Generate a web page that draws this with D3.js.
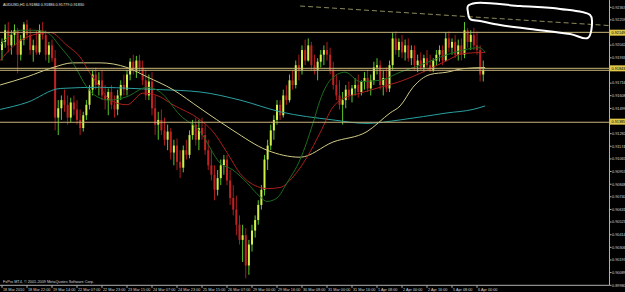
<!DOCTYPE html>
<html>
<head>
<meta charset="utf-8">
<script src="https://cdn.jsdelivr.net/npm/d3@7"></script>
<style>
html, body { margin: 0; padding: 0; background: #000; overflow: hidden; }
svg { display: block; font-family: "Liberation Sans", Arial, sans-serif; }
</style>
</head>
<body>
<script>
// AUDUSD candles (one candle per 2 hours)
var opens = [
0.9200,0.9207,0.9217,0.9204,0.9213,0.9217,0.9196,0.9209,0.9222,0.9213,
0.9200,0.9204,0.9198,0.9217,0.9213,0.9196,0.9204,0.9193,0.9142,0.9150,
0.9157,0.9153,0.9142,0.9155,0.9149,0.9140,0.9133,0.9144,0.9153,0.9166,
0.9179,0.9170,0.9174,0.9161,0.9157,0.9164,0.9153,0.9149,0.9161,0.9170,
0.9166,0.9179,0.9190,0.9183,0.9191,0.9185,0.9174,0.9161,0.9173,0.9150,
0.9136,0.9140,0.9131,0.9123,0.9130,0.9112,0.9118,0.9104,0.9099,0.9114,
0.9110,0.9127,0.9136,0.9123,0.9133,0.9127,0.9114,0.9101,0.9093,0.9080,
0.9090,0.9101,0.9106,0.9088,0.9073,0.9063,0.9050,0.9037,0.9041,0.9015,
0.9033,0.9045,0.9054,0.9067,0.9080,0.9106,0.9118,0.9131,0.9140,0.9153,
0.9144,0.9161,0.9157,0.9174,0.9170,0.9187,0.9183,0.9200,0.9191,0.9204,
0.9187,0.9183,0.9190,0.9196,0.9200,0.9196,0.9183,0.9170,0.9161,0.9153,
0.9157,0.9166,0.9161,0.9167,0.9170,0.9164,0.9173,0.9176,0.9167,0.9174,
0.9185,0.9187,0.9170,0.9176,0.9167,0.9187,0.9210,0.9200,0.9207,0.9198,
0.9204,0.9193,0.9200,0.9187,0.9191,0.9185,0.9193,0.9187,0.9183,0.9191,
0.9196,0.9200,0.9191,0.9210,0.9202,0.9207,0.9196,0.9204,0.9196,0.9217,
0.9207,0.9213,0.9204,0.9200,0.9179];
var highs = [
0.9210,0.9222,0.9224,0.9217,0.9222,0.9219,0.9213,0.9224,0.9226,0.9219,
0.9209,0.9217,0.9222,0.9224,0.9217,0.9207,0.9209,0.9200,0.9157,0.9161,
0.9166,0.9161,0.9159,0.9161,0.9157,0.9149,0.9147,0.9157,0.9170,0.9183,
0.9185,0.9181,0.9183,0.9170,0.9167,0.9170,0.9161,0.9166,0.9174,0.9179,
0.9183,0.9193,0.9196,0.9195,0.9196,0.9191,0.9183,0.9179,0.9181,0.9161,
0.9147,0.9149,0.9142,0.9136,0.9133,0.9123,0.9124,0.9114,0.9118,0.9123,
0.9131,0.9140,0.9142,0.9140,0.9142,0.9136,0.9123,0.9114,0.9101,0.9097,
0.9106,0.9110,0.9110,0.9097,0.9084,0.9075,0.9058,0.9050,0.9047,0.9037,
0.9050,0.9058,0.9071,0.9084,0.9110,0.9123,0.9136,0.9144,0.9157,0.9157,
0.9166,0.9170,0.9179,0.9183,0.9191,0.9196,0.9204,0.9209,0.9210,0.9207,
0.9196,0.9193,0.9200,0.9204,0.9207,0.9202,0.9190,0.9179,0.9174,0.9164,
0.9170,0.9173,0.9170,0.9176,0.9179,0.9174,0.9181,0.9183,0.9179,0.9190,
0.9193,0.9191,0.9183,0.9185,0.9191,0.9215,0.9216,0.9210,0.9213,0.9209,
0.9210,0.9204,0.9204,0.9196,0.9198,0.9196,0.9200,0.9196,0.9193,0.9200,
0.9204,0.9204,0.9215,0.9216,0.9210,0.9213,0.9209,0.9210,0.9224,0.9219,
0.9217,0.9219,0.9216,0.9204,0.9191];
var lows = [
0.9191,0.9202,0.9198,0.9196,0.9204,0.9180,0.9191,0.9204,0.9209,0.9196,
0.9190,0.9196,0.9196,0.9209,0.9191,0.9189,0.9190,0.9131,0.9127,0.9140,
0.9147,0.9136,0.9138,0.9144,0.9136,0.9127,0.9130,0.9140,0.9149,0.9161,
0.9166,0.9161,0.9157,0.9149,0.9144,0.9149,0.9142,0.9144,0.9157,0.9161,
0.9161,0.9174,0.9179,0.9176,0.9181,0.9170,0.9157,0.9157,0.9144,0.9127,
0.9123,0.9127,0.9118,0.9114,0.9106,0.9101,0.9097,0.9090,0.9095,0.9106,
0.9107,0.9123,0.9118,0.9114,0.9123,0.9110,0.9097,0.9088,0.9071,0.9075,
0.9084,0.9093,0.9084,0.9067,0.9058,0.9041,0.9033,0.9018,0.9004,0.9007,
0.9027,0.9039,0.9050,0.9063,0.9075,0.9097,0.9114,0.9123,0.9136,0.9140,
0.9142,0.9153,0.9155,0.9166,0.9167,0.9174,0.9179,0.9187,0.9190,0.9183,
0.9179,0.9174,0.9185,0.9187,0.9191,0.9179,0.9166,0.9157,0.9149,0.9136,
0.9150,0.9157,0.9155,0.9161,0.9159,0.9161,0.9166,0.9164,0.9161,0.9170,
0.9179,0.9166,0.9161,0.9164,0.9164,0.9183,0.9196,0.9194,0.9193,0.9191,
0.9190,0.9187,0.9183,0.9181,0.9183,0.9181,0.9185,0.9181,0.9181,0.9187,
0.9190,0.9187,0.9190,0.9198,0.9196,0.9193,0.9191,0.9191,0.9193,0.9202,
0.9200,0.9200,0.9196,0.9173,0.9173];
var closes = [
0.9207,0.9217,0.9204,0.9213,0.9217,0.9196,0.9209,0.9222,0.9213,0.9200,
0.9204,0.9198,0.9217,0.9213,0.9196,0.9204,0.9193,0.9142,0.9150,0.9157,
0.9153,0.9142,0.9155,0.9149,0.9140,0.9133,0.9144,0.9153,0.9166,0.9179,
0.9170,0.9174,0.9161,0.9157,0.9164,0.9153,0.9149,0.9161,0.9170,0.9166,
0.9179,0.9190,0.9183,0.9191,0.9185,0.9174,0.9161,0.9173,0.9150,0.9136,
0.9140,0.9131,0.9123,0.9130,0.9112,0.9118,0.9104,0.9099,0.9114,0.9110,
0.9127,0.9136,0.9123,0.9133,0.9127,0.9114,0.9101,0.9093,0.9080,0.9090,
0.9101,0.9106,0.9088,0.9073,0.9063,0.9050,0.9037,0.9041,0.9015,0.9033,
0.9045,0.9054,0.9067,0.9080,0.9106,0.9118,0.9131,0.9140,0.9153,0.9144,
0.9161,0.9157,0.9174,0.9170,0.9187,0.9183,0.9200,0.9191,0.9204,0.9187,
0.9183,0.9190,0.9196,0.9200,0.9196,0.9183,0.9170,0.9161,0.9153,0.9157,
0.9166,0.9161,0.9167,0.9170,0.9164,0.9173,0.9176,0.9167,0.9174,0.9185,
0.9187,0.9170,0.9176,0.9167,0.9187,0.9210,0.9200,0.9207,0.9198,0.9204,
0.9193,0.9200,0.9187,0.9191,0.9185,0.9193,0.9187,0.9183,0.9191,0.9196,
0.9200,0.9191,0.9210,0.9202,0.9207,0.9196,0.9204,0.9196,0.9217,0.9207,
0.9213,0.9204,0.9200,0.9179,0.9183];

// moving averages, [candle index, price] read at points along each line
var maGreen = [[-0.6,0.9204],[5.8,0.9217],[9.9,0.9217],[14.4,0.9215],[18.6,0.9203],[22.7,0.9189],
  [27.2,0.9168],[30.4,0.9160],[34.6,0.9157],[40,0.9160],[46.4,0.9168],[50.6,0.9164],[57,0.9144],
  [63.4,0.9130],[69.8,0.9103],[73.9,0.9097],[78.4,0.9086],[82.6,0.9074],[84.8,0.9070],[88,0.9073],
  [91.2,0.9086],[95.4,0.9106],[99.5,0.9137],[101.8,0.9157],[105,0.9174],[109.8,0.9181],[114.6,0.9173],
  [121,0.9174],[127.4,0.9181],[133.8,0.9187],[142.4,0.9196],[147.5,0.9200],[152.9,0.9202],[154.6,0.9198]];
var maRed = [[-0.6,0.9191],[3.5,0.9203],[9.9,0.9213],[15.4,0.9215],[20.8,0.9204],[25,0.9194],
  [28.2,0.9180],[31.4,0.9168],[34.6,0.9157],[40,0.9153],[45.1,0.9163],[49.6,0.9161],[54.7,0.9153],
  [63.4,0.9140],[67.5,0.9130],[72,0.9112],[76.2,0.9094],[82.6,0.9082],[84.8,0.9081],[89,0.9082],
  [93.1,0.9091],[97.6,0.9108],[101.8,0.9129],[105.9,0.9151],[108.2,0.9157],[114.6,0.9163],[121,0.9168],
  [127.4,0.9173],[133.8,0.9180],[142.4,0.9191],[147.5,0.9197],[154.6,0.9198]];
var maYellow = [[-0.6,0.9170],[8,0.9177],[16.3,0.9185],[22.7,0.9189],[31.4,0.9189],[40,0.9185],
  [46.4,0.9177],[54.7,0.9166],[63.4,0.9150],[73.9,0.9131],[84.8,0.9114],[95.4,0.9108],[105.9,0.9121],
  [116.8,0.9130],[124.2,0.9146],[127.4,0.9152],[131.5,0.9168],[137,0.9179],[142.4,0.9181],
  [147.5,0.9184],[154.6,0.9185]];
var maTeal = [[-0.6,0.9149],[8,0.9155],[18.6,0.9167],[31.4,0.9168],[41.9,0.9167],[50.6,0.9166],
  [63.4,0.9164],[76.2,0.9157],[89,0.9147],[105.9,0.9140],[116.8,0.9137],[127.4,0.9140],[142.4,0.9146],
  [150.7,0.9149],[154.6,0.9152]];

// horizontal levels, trendline and the hand drawn loop
var levels = [0.92152, 0.91843, 0.91826, 0.91380];
var levelLabels = [0.92149, 0.91843, 0.91385];
var trendline = [[95.4,0.92378],[194.5,0.92210]];
var loop = [[149.1,0.92378],[151.7,0.92404],[165.8,0.92378],[178.6,0.92353],[188.2,0.92301],
  [188.8,0.92250],[187.5,0.92104],[181.8,0.92138],[169,0.92181],[159.4,0.92215],[153,0.92250],
  [149.8,0.92267],[149.1,0.92327]];

// axis labels
var priceTicks = [0.92367,0.92259,0.92150,0.92042,0.91933,0.91825,0.91716,0.91608,0.91499,0.91391,
  0.91282,0.91174,0.91065,0.90957,0.90848,0.90740,0.90631,0.90523,0.90414,0.90306,0.90197,0.90089,0.89980];
var timeLabels = ["18 Mar 2010","18 Mar 22:00","19 Mar 14:00","22 Mar 07:00","22 Mar 23:00",
  "23 Mar 15:00","24 Mar 07:00","24 Mar 23:00","25 Mar 15:00","26 Mar 07:00","29 Mar 00:00",
  "29 Mar 16:00","30 Mar 08:00","31 Mar 00:00","31 Mar 16:00","1 Apr 08:00","2 Apr 00:00",
  "2 Apr 16:00","5 Apr 08:00","6 Apr 00:00"];
var header = "AUDUSD,H1  0.91884 0.91886 0.91779 0.91830";
var footer = "FxPro MT4, \u00a9 2001-2009 MetaQuotes Software Corp.";

var width = 625,
    height = 292,
    plotRight = 609.5,
    plotBottom = 285.3;

var svg = d3.select("body")
    .append("svg")
    .attr("width", width)
    .attr("height", height);

svg.append("rect")
    .attr("width", width)
    .attr("height", height)
    .attr("fill", "#000");

//candle index -> pixel, 8 candles per time label
var x = d3.scaleLinear()
    .domain([0, 8])
    .range([2, 27]);

var y = d3.scaleLinear()
    .domain([0.89980, 0.92367])
    .range([285.3, 7.3]);

svg.append("clipPath")
    .attr("id", "plotclip")
    .append("rect")
    .attr("x", 0).attr("y", 0)
    .attr("width", plotRight)
    .attr("height", plotBottom);

var plot = svg.append("g").attr("clip-path", "url(#plotclip)");

//candles
var candles = d3.range(opens.length).map(function(i){
    return {i: i, o: opens[i], h: highs[i], l: lows[i], c: closes[i]};
});

var cg = plot.selectAll(".candle")
    .data(candles)
    .enter()
    .append("g")
    .attr("class", "candle");

cg.append("line")
    .attr("x1", function(d){ return x(d.i); })
    .attr("x2", function(d){ return x(d.i); })
    .attr("y1", function(d){ return y(d.h); })
    .attr("y2", function(d){ return y(d.l); })
    .attr("stroke", function(d){ return d.c >= d.o ? "#5cc62a" : "#a81c1c"; })
    .attr("stroke-width", 1);

cg.append("rect")
    .attr("x", function(d){ return x(d.i) - 1; })
    .attr("width", 2)
    .attr("y", function(d){ return y(Math.max(d.o, d.c)); })
    .attr("height", function(d){ return Math.max(1, Math.abs(y(d.o) - y(d.c))); })
    .attr("fill", function(d){ return d.c >= d.o ? "#d0f04a" : "#c02222"; });

//moving averages
var maLine = d3.line()
    .x(function(d){ return x(d[0]); })
    .y(function(d){ return y(d[1]); })
    .curve(d3.curveMonotoneX);

var mas = [
    {pts: maTeal, color: "#2aa0a0"},
    {pts: maYellow, color: "#d2cc86"},
    {pts: maRed, color: "#a8201e"},
    {pts: maGreen, color: "#1c6e20"}
];

plot.selectAll(".ma")
    .data(mas)
    .enter()
    .append("path")
    .attr("class", "ma")
    .attr("d", function(d){ return maLine(d.pts); })
    .attr("fill", "none")
    .attr("stroke", function(d){ return d.color; })
    .attr("stroke-width", 1);

//horizontal levels
plot.selectAll(".level")
    .data(levels)
    .enter()
    .append("line")
    .attr("class", "level")
    .attr("x1", 0)
    .attr("x2", plotRight)
    .attr("y1", function(d){ return y(d); })
    .attr("y2", function(d){ return y(d); })
    .attr("stroke", "#c9b679")
    .attr("stroke-width", 1);

//dashed trendline
var straight = d3.line()
    .x(function(d){ return x(d[0]); })
    .y(function(d){ return y(d[1]); });

plot.append("path")
    .attr("d", straight(trendline))
    .attr("fill", "none")
    .attr("stroke", "#8e8c5a")
    .attr("stroke-width", 1)
    .attr("stroke-dasharray", "5,3");

//hand drawn loop
plot.append("path")
    .attr("d", d3.line()
        .x(function(d){ return x(d[0]); })
        .y(function(d){ return y(d[1]); })
        .curve(d3.curveCatmullRomClosed.alpha(0.5))(loop))
    .attr("fill", "none")
    .attr("stroke", "#ffffff")
    .attr("stroke-width", 2);

//frame
svg.append("line")
    .attr("x1", plotRight).attr("x2", plotRight)
    .attr("y1", 0).attr("y2", plotBottom)
    .attr("stroke", "#b0b0b0");
svg.append("line")
    .attr("x1", 0).attr("x2", plotRight)
    .attr("y1", plotBottom).attr("y2", plotBottom)
    .attr("stroke", "#b0b0b0");

//price axis, regular labels hidden where a level label sits
var shownTicks = priceTicks.filter(function(p){
    return levelLabels.every(function(l){ return Math.abs(y(p) - y(l)) > 5; });
});

var pa = svg.append("g").attr("font-size", 3.8).attr("fill", "#d4d4d4");
pa.selectAll(".ptick")
    .data(priceTicks)
    .enter()
    .append("line")
    .attr("x1", plotRight).attr("x2", plotRight + 2)
    .attr("y1", function(d){ return y(d); })
    .attr("y2", function(d){ return y(d); })
    .attr("stroke", "#b0b0b0");
pa.selectAll(".plabel")
    .data(shownTicks)
    .enter()
    .append("text")
    .attr("x", 612)
    .attr("y", function(d){ return y(d) + 1.3; })
    .text(function(d){ return d.toFixed(5); });

var hl = svg.selectAll(".hl")
    .data(levelLabels)
    .enter()
    .append("g");
hl.append("rect")
    .attr("x", 610)
    .attr("y", function(d){ return y(d) - 3; })
    .attr("width", 15)
    .attr("height", 6)
    .attr("fill", "#e2c84a");
hl.append("text")
    .attr("x", 611.5)
    .attr("y", function(d){ return y(d) + 1.3; })
    .attr("font-size", 3.8)
    .attr("fill", "#000")
    .text(function(d){ return d.toFixed(5); });

//time axis
var ta = svg.append("g").attr("font-size", 3.8).attr("fill", "#d4d4d4");
ta.selectAll(".ttick")
    .data(timeLabels)
    .enter()
    .append("line")
    .attr("x1", function(d, k){ return x(k * 8); })
    .attr("x2", function(d, k){ return x(k * 8); })
    .attr("y1", plotBottom).attr("y2", plotBottom + 2.5)
    .attr("stroke", "#b0b0b0");
ta.selectAll(".tlabel")
    .data(timeLabels)
    .enter()
    .append("text")
    .attr("x", function(d, k){ return x(k * 8) + 1; })
    .attr("y", 290.6)
    .text(function(d){ return d; });

//texts on the chart
svg.append("text")
    .attr("x", 3).attr("y", 5.6)
    .attr("font-size", 3.8)
    .attr("fill", "#e6e6e6")
    .text(header);
svg.append("text")
    .attr("x", 3).attr("y", 283)
    .attr("font-size", 3.8)
    .attr("fill", "#d4d4d4")
    .text(footer);
</script>
</body>
</html>
